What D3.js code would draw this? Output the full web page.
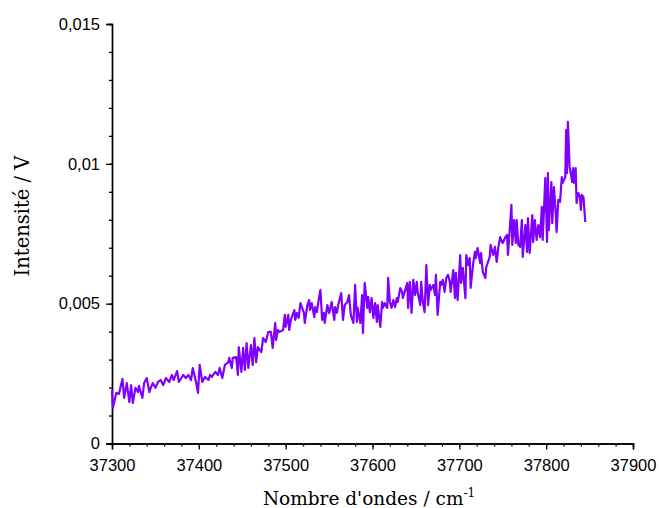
<!DOCTYPE html>
<html>
<head>
<meta charset="utf-8">
<script src="https://cdn.jsdelivr.net/npm/d3@7"></script>
<style>
  html, body { margin: 0; padding: 0; background: #fff; }
  svg { display: block; }
</style>
</head>
<body>
<svg id="chart" width="659" height="508"></svg>
<script>
// ---- data ----
const wavenumbers = [
37300,37301,37305,37308,37312,37314,37317,37320,37322,37324,37327,37330,37331,37335,37337,37340,37343,37345,37347,37350,
37353,37356,37359,37362,37366,37369,37371,37375,37377,37382,37385,37388,37391,37393,37397,37399,37401,37404,37407,37411,
37413,37415,37419,37422,37424,37427,37430,37434,37435,37438,37439,37443,37445,37446,37449,37451,37453,37455,37457,37460,
37462,37464,37466,37468,37472,37474,37477,37480,37483,37485,37488,37489,37491,37493,37497,37499,37500,37503,37504,37506,
37510,37511,37513,37515,37517,37519,37521,37522,37525,37527,37528,37530,37533,37534,37536,37538,37540,37542,37544,37545,
37548,37550,37551,37553,37556,37557,37559,37561,37564,37566,37568,37571,37573,37575,37578,37580,37582,37583,37586,37588,
37589,37591,37594,37595,37597,37599,37601,37603,37605,37606,37609,37611,37612,37614,37617,37618,37620,37622,37624,37626,
37628,37629,37632,37634,37635,37637,37640,37641,37643,37645,37647,37649,37651,37652,37655,37656,37658,37660,37662,37664,
37666,37667,37670,37672,37673,37675,37678,37679,37681,37683,37685,37687,37689,37690,37693,37695,37696,37698,37701,37702,
37704,37707,37708,37710,37712,37713,37716,37718,37719,37721,37724,37725,37727,37730,37731,37733,37735,37736,37739,37741,
37743,37745,37747,37749,37750,37753,37755,37756,37758,37760,37761,37763,37765,37766,37768,37770,37772,37773,37776,37778,
37779,37781,37784,37785,37787,37789,37791,37793,37795,37796,37799,37801,37802,37803,37806,37807,37809,37811,37812,37814,
37816,37818,37819,37822,37823,37824,37825,37827,37830,37831,37832,37834,37835,37837,37839,37840,37841,37843,37845
];
const intensity = [
0.00191,0.00127,0.00181,0.00177,0.00231,0.00163,0.00216,0.00148,0.00209,0.00145,0.00199,0.00184,0.00206,0.00163,0.00216,0.00234,0.00184,0.00202,0.00216,0.00199,
0.00220,0.00227,0.00209,0.00234,0.00220,0.00245,0.00227,0.00259,0.00220,0.00245,0.00234,0.00245,0.00227,0.00270,0.00216,0.00181,0.00281,0.00220,0.00238,0.00227,
0.00245,0.00238,0.00256,0.00245,0.00270,0.00234,0.00281,0.00291,0.00306,0.00270,0.00306,0.00309,0.00245,0.00345,0.00256,0.00342,0.00263,0.00359,0.00270,0.00352,
0.00281,0.00377,0.00291,0.00345,0.00327,0.00377,0.00363,0.00399,0.00399,0.00342,0.00431,0.00370,0.00406,0.00399,0.00406,0.00460,0.00417,0.00460,0.00406,0.00442,
0.00477,0.00442,0.00467,0.00449,0.00502,0.00485,0.00467,0.00431,0.00495,0.00513,0.00477,0.00502,0.00452,0.00488,0.00470,0.00513,0.00549,0.00442,0.00467,0.00431,
0.00495,0.00467,0.00477,0.00506,0.00442,0.00488,0.00467,0.00502,0.00538,0.00442,0.00495,0.00506,0.00531,0.00460,0.00431,0.00567,0.00435,0.00485,0.00431,0.00531,
0.00395,0.00574,0.00485,0.00524,0.00470,0.00520,0.00449,0.00502,0.00435,0.00495,0.00417,0.00506,0.00485,0.00502,0.00485,0.00592,0.00506,0.00485,0.00513,0.00488,
0.00520,0.00506,0.00556,0.00542,0.00520,0.00542,0.00574,0.00485,0.00578,0.00467,0.00585,0.00531,0.00578,0.00542,0.00495,0.00578,0.00506,0.00470,0.00638,0.00495,
0.00567,0.00549,0.00567,0.00531,0.00603,0.00460,0.00578,0.00567,0.00585,0.00542,0.00592,0.00603,0.00578,0.00542,0.00620,0.00520,0.00610,0.00513,0.00674,0.00574,
0.00628,0.00520,0.00674,0.00638,0.00663,0.00556,0.00645,0.00685,0.00663,0.00699,0.00645,0.00681,0.00613,0.00592,0.00631,0.00649,0.00667,0.00710,0.00674,0.00703,
0.00649,0.00703,0.00738,0.00721,0.00717,0.00738,0.00746,0.00674,0.00763,0.00853,0.00710,0.00799,0.00717,0.00799,0.00710,0.00703,0.00799,0.00667,0.00781,0.00685,
0.00806,0.00681,0.00817,0.00721,0.00799,0.00728,0.00781,0.00738,0.00846,0.00728,0.00949,0.00721,0.00967,0.00763,0.00935,0.00788,0.00917,0.00824,0.00756,0.00871,
0.00864,0.00953,0.00932,0.00953,0.01121,0.00967,0.01150,0.00989,0.00935,0.00985,0.00932,0.00985,0.00860,0.00896,0.00881,0.00835,0.00889,0.00881,0.00792
];
const xTicks = [37300, 37400, 37500, 37600, 37700, 37800, 37900];
const xTickLabels = ["37300", "37400", "37500", "37600", "37700", "37800", "37900"];
const yTicks = [0, 0.005, 0.01, 0.015];
const yTickLabels = ["0", "0,005", "0,01", "0,015"];
const xTitle = "Nombre d'ondes / cm";
const xTitleSup = "-1";
const yTitle = "Intensité / V";

// ---- layout ----
const svg = d3.select("#chart");
const mLeft = 112, mRight = 633, mTop = 24, mBottom = 443.5;
const x = d3.scaleLinear().domain([37300, 37900]).range([mLeft, mRight]);
const y = d3.scaleLinear().domain([0, 0.015]).range([mBottom, mTop]);

const xMinor = d3.range(37300, 37900.1, 20);
const yMinor = d3.range(0, 0.01501, 0.001);

// x axis
const xAxisG = svg.append("g").attr("transform", `translate(0,${mBottom})`);
xAxisG.call(d3.axisBottom(x).tickValues(xMinor).tickSize(3).tickFormat(""));
xAxisG.append("g").call(d3.axisBottom(x).tickValues(xTicks).tickSize(6).tickPadding(10)
  .tickFormat((d, i) => xTickLabels[i]));
// y axis
const yAxisG = svg.append("g").attr("transform", `translate(${mLeft},0)`);
yAxisG.call(d3.axisLeft(y).tickValues(yMinor).tickSize(3).tickFormat(""));
yAxisG.append("g").call(d3.axisLeft(y).tickValues(yTicks).tickSize(6).tickPadding(6)
  .tickFormat((d, i) => yTickLabels[i]));

svg.selectAll(".domain").attr("stroke", "#000").attr("stroke-width", 1.4);
svg.selectAll(".tick line").attr("stroke", "#000").attr("stroke-width", 1.3);
svg.selectAll(".tick text").attr("font-family", "'Liberation Sans', Arial, sans-serif")
  .attr("font-size", 16.5).attr("fill", "#000");

// line
const pts = wavenumbers.map((w, i) => [w, intensity[i]]);
svg.append("path")
  .datum(pts)
  .attr("fill", "none")
  .attr("stroke", "#7f00ff")
  .attr("stroke-width", 2.2)
  .attr("stroke-linejoin", "round")
  .attr("d", d3.line().x(d => x(d[0])).y(d => y(d[1])));

// titles
const xt = svg.append("text")
  .attr("x", 369).attr("y", 505)
  .attr("text-anchor", "middle")
  .attr("font-family", "'DejaVu Serif', serif")
  .attr("font-size", 18.5).attr("fill", "#000");
xt.append("tspan").text(xTitle);
xt.append("tspan").attr("dy", -8).attr("font-size", 12).text(xTitleSup);

svg.append("text")
  .attr("transform", "translate(29,216) rotate(-90)")
  .attr("text-anchor", "middle")
  .attr("font-family", "'DejaVu Serif', serif")
  .attr("font-size", 19.5).attr("fill", "#000")
  .text(yTitle);
</script>
</body>
</html>
